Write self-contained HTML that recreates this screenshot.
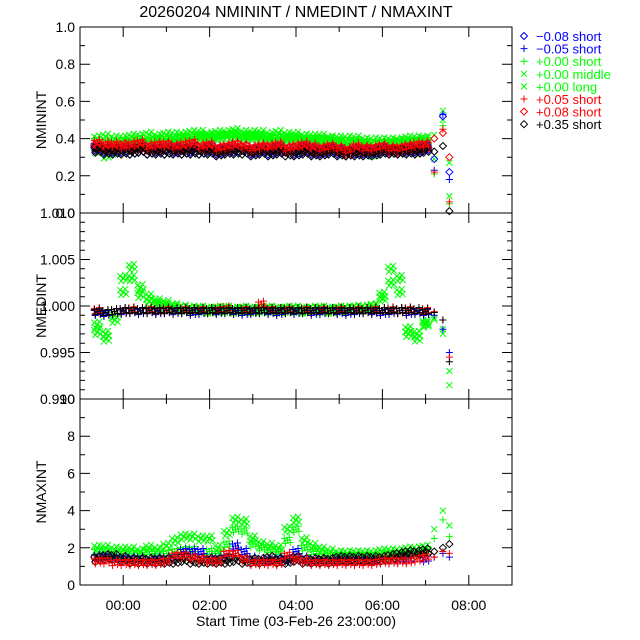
<!DOCTYPE html>
<html><head><meta charset="utf-8"><style>
body{margin:0;background:#fff;}
svg{display:block;font-family:"Liberation Sans",sans-serif;}
</style></head><body>
<svg id="c" width="640" height="640" viewBox="0 0 640 640">
<text x="296" y="17" font-size="16" text-anchor="middle">20260204 NMININT / NMEDINT / NMAXINT</text>
<g id="g"></g>
</svg>
<script>
const times=[-0.6,-0.4,-0.2,0,0.2,0.4,0.6,0.8,1.0,1.2,1.4,1.6,1.8,2.0,2.2,2.4,2.6,2.8,3.0,3.2,3.4,3.6,3.8,4.0,4.2,4.4,4.6,4.8,5.0,5.2,5.4,5.6,5.8,6.0,6.2,6.4,6.6,6.8,7.0,7.2,7.4,7.55];
const xTickLabels=["00:00","02:00","04:00","06:00","08:00"];
const xTickHours=[0,2,4,6,8];
// Panel 1 NMININT
const minGreenLong=[0.40,0.41,0.40,0.40,0.41,0.41,0.42,0.41,0.42,0.42,0.42,0.43,0.43,0.42,0.43,0.43,0.44,0.43,0.43,0.43,0.42,0.43,0.42,0.42,0.41,0.41,0.41,0.40,0.40,0.40,0.40,0.39,0.39,0.39,0.39,0.39,0.40,0.40,0.40,0.42,0.55,0.27];
const minGreenMid=[0.34,0.31,0.33,0.36,0.37,0.38,0.38,0.39,0.39,0.39,0.40,0.40,0.41,0.41,0.41,0.41,0.42,0.41,0.41,0.41,0.40,0.40,0.40,0.40,0.39,0.39,0.39,0.39,0.38,0.37,0.38,0.37,0.32,0.36,0.37,0.38,0.38,0.38,0.39,0.29,0.50,0.09];
const minGreenShort=[0.39,0.38,0.38,0.39,0.39,0.40,0.39,0.40,0.40,0.40,0.41,0.41,0.41,0.40,0.41,0.42,0.42,0.41,0.41,0.41,0.40,0.41,0.40,0.40,0.40,0.39,0.39,0.39,0.38,0.38,0.38,0.38,0.37,0.38,0.38,0.38,0.38,0.39,0.39,0.21,0.47,0.05];
const minRed=[0.38,0.37,0.37,0.36,0.37,0.38,0.36,0.37,0.37,0.36,0.37,0.38,0.36,0.37,0.35,0.36,0.37,0.36,0.35,0.36,0.36,0.37,0.35,0.36,0.37,0.36,0.35,0.36,0.35,0.34,0.36,0.35,0.35,0.36,0.35,0.35,0.36,0.37,0.37,0.22,0.45,0.06];
const minBluePlus=[0.36,0.35,0.35,0.35,0.35,0.36,0.35,0.35,0.36,0.35,0.35,0.36,0.35,0.36,0.35,0.35,0.37,0.36,0.35,0.36,0.35,0.36,0.35,0.35,0.36,0.35,0.34,0.35,0.34,0.34,0.35,0.34,0.34,0.35,0.34,0.34,0.35,0.35,0.36,0.23,0.53,0.18];
const minBlueDia=[0.35,0.34,0.34,0.34,0.33,0.34,0.33,0.34,0.33,0.34,0.33,0.34,0.33,0.34,0.33,0.34,0.34,0.35,0.33,0.34,0.33,0.34,0.34,0.33,0.34,0.33,0.33,0.34,0.33,0.32,0.33,0.33,0.33,0.34,0.33,0.33,0.34,0.34,0.35,0.29,0.52,0.22];
const minRedDia=[0.36,0.35,0.35,0.36,0.35,0.36,0.35,0.35,0.36,0.35,0.35,0.36,0.35,0.35,0.34,0.35,0.36,0.35,0.34,0.35,0.35,0.35,0.34,0.35,0.35,0.34,0.34,0.35,0.34,0.33,0.34,0.34,0.34,0.35,0.34,0.34,0.35,0.35,0.36,0.40,0.43,0.30];
const minBlack=[0.34,0.33,0.33,0.33,0.33,0.34,0.33,0.33,0.33,0.33,0.33,0.33,0.33,0.33,0.32,0.33,0.33,0.33,0.32,0.33,0.32,0.33,0.32,0.32,0.33,0.32,0.32,0.33,0.32,0.32,0.32,0.32,0.32,0.33,0.33,0.33,0.33,0.33,0.34,0.33,0.36,0.01];
// Panel 2 NMEDINT
const medGreenLong=[0.9972,0.9965,0.9990,1.0030,1.0042,1.0020,1.0010,1.0005,1.0003,1.0000,0.9998,0.9997,0.9997,0.9996,0.9997,0.9997,0.9996,0.9997,0.9996,0.9997,0.9997,0.9996,0.9997,0.9997,0.9996,0.9997,0.9997,0.9996,0.9997,0.9997,0.9998,0.9998,1.0000,1.0012,1.0040,1.0030,0.9970,0.9965,0.9980,0.9985,0.9975,0.9930];
const medGreenMid=[0.9980,0.9970,0.9985,1.0015,1.0030,1.0012,1.0005,1.0002,1.0000,0.9998,0.9997,0.9996,0.9996,0.9995,0.9996,0.9996,0.9995,0.9996,0.9995,0.9996,0.9996,0.9995,0.9996,0.9996,0.9995,0.9996,0.9996,0.9995,0.9996,0.9996,0.9997,0.9997,0.9999,1.0008,1.0025,1.0015,0.9975,0.9970,0.9982,0.9987,0.9970,0.9915];
const medRed=[0.9995,0.9993,0.9994,0.9995,0.9996,0.9995,0.9996,0.9995,0.9996,0.9995,0.9996,0.9995,0.9996,0.9995,0.9996,0.9997,0.9995,0.9996,0.9995,1.0002,0.9996,0.9995,0.9996,0.9995,0.9996,0.9995,0.9996,0.9995,0.9996,0.9995,0.9996,0.9995,0.9996,0.9995,0.9996,0.9995,0.9996,0.9995,0.9995,0.9994,0.9985,0.9945];
const medBlue=[0.9993,0.9992,0.9994,0.9994,0.9995,0.9994,0.9995,0.9994,0.9995,0.9994,0.9995,0.9993,0.9994,0.9995,0.9994,0.9995,0.9994,0.9993,0.9994,0.9995,0.9994,0.9993,0.9995,0.9994,0.9995,0.9993,0.9994,0.9995,0.9994,0.9993,0.9994,0.9995,0.9994,0.9993,0.9994,0.9995,0.9993,0.9994,0.9993,0.9990,0.9975,0.9950];
const medBlack=[0.9994,0.9993,0.9994,0.9995,0.9995,0.9995,0.9995,0.9995,0.9995,0.9995,0.9995,0.9995,0.9995,0.9995,0.9995,0.9995,0.9995,0.9995,0.9995,0.9995,0.9995,0.9995,0.9995,0.9995,0.9995,0.9995,0.9995,0.9995,0.9995,0.9995,0.9995,0.9995,0.9995,0.9995,0.9995,0.9995,0.9995,0.9995,0.9994,0.9993,0.9985,0.9940];
// Panel 3 NMAXINT
const maxGreenLong=[2.0,2.0,1.9,1.9,1.9,1.8,2.0,1.9,2.1,2.4,2.6,2.6,2.5,2.5,2.0,2.8,3.5,3.4,2.5,2.2,2.1,2.0,3.0,3.5,2.4,2.1,1.9,1.8,1.7,1.7,1.7,1.7,1.7,1.8,1.8,1.8,1.9,1.9,2.0,3.0,4.0,3.2];
const maxGreenMid=[1.8,1.8,1.7,1.7,1.7,1.7,1.8,1.7,1.7,1.8,1.9,1.9,1.8,1.8,1.7,2.2,3.0,2.9,2.2,2.0,1.9,1.8,2.4,3.0,2.0,1.8,1.7,1.6,1.6,1.6,1.6,1.6,1.6,1.6,1.7,1.7,1.7,1.8,1.9,2.5,3.5,2.6];
const maxBlue=[1.5,1.5,1.4,1.4,1.4,1.4,1.3,1.4,1.4,1.5,1.8,1.8,1.8,1.4,1.4,1.5,2.1,1.8,1.4,1.3,1.3,1.4,1.4,1.8,1.4,1.3,1.3,1.3,1.3,1.3,1.3,1.3,1.3,1.3,1.3,1.4,1.4,1.4,1.4,1.5,1.7,1.5];
const maxRed=[1.3,1.3,1.2,1.2,1.2,1.2,1.2,1.2,1.3,1.6,1.6,1.5,1.4,1.3,1.3,1.7,1.7,1.4,1.2,1.2,1.2,1.2,1.6,1.4,1.3,1.2,1.2,1.2,1.2,1.2,1.2,1.2,1.2,1.3,1.3,1.3,1.3,1.4,1.5,1.5,1.8,1.7];
const maxBlack=[1.4,1.5,1.5,1.4,1.3,1.3,1.3,1.3,1.3,1.3,1.4,1.3,1.3,1.3,1.3,1.3,1.4,1.3,1.3,1.3,1.4,1.3,1.3,1.4,1.3,1.3,1.3,1.3,1.4,1.4,1.4,1.4,1.4,1.4,1.5,1.6,1.7,1.7,1.8,1.8,2.0,2.2];

const NS="http://www.w3.org/2000/svg";
const G=document.getElementById('g');
const X0=80,X1=512,TMIN=-1,TMAX=9;
// fixed visual smear pattern (pixel offsets) to mimic dense sampling
const smear=[[0,0],[-3,-2],[3,2],[-2,3],[2,-3]];
function xs(t){return X0+(t-TMIN)/(TMAX-TMIN)*(X1-X0);}
function mk(tag,attrs,parent){const e=document.createElementNS(NS,tag);for(const k in attrs)e.setAttribute(k,attrs[k]);(parent||G).appendChild(e);return e;}
function mpath(type,x,y){
  if(type==='plus')return `M${x-3.5},${y}H${x+3.5}M${x},${y-3.5}V${y+3.5}`;
  if(type==='x')return `M${x-3},${y-3}L${x+3},${y+3}M${x-3},${y+3}L${x+3},${y-3}`;
  return `M${x},${y-3.5}L${x+3.5},${y}L${x},${y+3.5}L${x-3.5},${y}Z`;
}
function marker(type,x,y,col,parent,dense){
  let d='';
  if(dense){smear.forEach(o=>{d+=mpath(type,x+o[0],y+o[1]);});}
  else d=mpath(type,x,y);
  return mk('path',{d:d,stroke:col,fill:'none','stroke-width':1},parent);
}
const panels=[
 {name:'nminint',title:'NMININT',top:27,bot:213,min:0,max:1,major:[0,0.2,0.4,0.6,0.8,1.0],labels:['0.0','0.2','0.4','0.6','0.8','1.0'],minorStep:0.1,
  series:[[minGreenLong,'x','#00ff00'],[minGreenMid,'x','#00ff00'],[minGreenShort,'plus','#00ff00'],[minBlueDia,'dia','#0000ff'],[minBluePlus,'plus','#0000ff'],[minRedDia,'dia','#ff0000'],[minBlack,'dia','#000000'],[minRed,'plus','#ff0000']]},
 {name:'nmedint',title:'NMEDINT',top:213,bot:399,min:0.990,max:1.010,major:[0.990,0.995,1.000,1.005,1.010],labels:['0.990','0.995','1.000','1.005','1.010'],minorStep:0.001,
  series:[[medGreenLong,'x','#00ff00'],[medGreenMid,'x','#00ff00'],[medBlue,'plus','#0000ff'],[medRed,'plus','#ff0000'],[medBlack,'plus','#000000']]},
 {name:'nmaxint',title:'NMAXINT',top:399,bot:585,min:0,max:10,major:[0,2,4,6,8,10],labels:['0','2','4','6','8','10'],minorStep:1,
  series:[[maxGreenLong,'x','#00ff00'],[maxGreenMid,'plus','#00ff00'],[maxBlue,'plus','#0000ff'],[maxBlack,'dia','#000000'],[maxRed,'plus','#ff0000']]}
];
panels.forEach(P=>{
  const ys=v=>P.bot-(v-P.min)/(P.max-P.min)*(P.bot-P.top);
  const pg=mk('g',{});
  
  
  P.series.forEach(s=>{
    const sg=mk('g',{},pg);
    
    
    s[0].forEach((v,i)=>{
      const dense=i<s[0].length-3;
      const m=marker(s[1],xs(times[i]),ys(v),s[2],sg,dense);
      
      
    });
  });
  const fr=mk('rect',{x:X0,y:P.top,width:X1-X0,height:P.bot-P.top,fill:'none',stroke:'#000','stroke-width':1},pg);
  
  
  let d='';
  const n=Math.round((P.max-P.min)/P.minorStep);
  for(let k=0;k<=n;k++){const v=P.min+k*P.minorStep;const y=ys(v);const maj=P.major.some(m=>Math.abs(m-v)<P.minorStep/10);const L=maj?10:5;d+=`M${X0},${y}h${L}M${X1},${y}h${-L}`;}
  for(let h=-1;h<=9;h++){const x=xs(h);const L=(h%2===0)?10:5;d+=`M${x},${P.bot}v${-L}M${x},${P.top}v${L}`;}
  const tk=mk('path',{d:d,stroke:'#000','stroke-width':1,fill:'none'},pg);
  
  
  P.major.forEach((v,i)=>{
    const t=mk('text',{x:75,y:ys(v)+5,'font-size':14,'text-anchor':'end',fill:'#000'},pg);
    t.textContent=P.labels[i];
    
    
  });
  const yt=mk('text',{x:0,y:0,'font-size':14,'text-anchor':'middle',transform:`translate(46,${(P.top+P.bot)/2}) rotate(-90)`},pg);
  yt.textContent=P.title;
  
  
});
xTickHours.forEach((h,i)=>{
  const t=mk('text',{x:xs(h),y:610,'font-size':14,'text-anchor':'middle'});
  t.textContent=xTickLabels[i];
  
  
});
const xt=mk('text',{x:296,y:626,'font-size':14,'text-anchor':'middle'});
xt.textContent='Start Time (03-Feb-26 23:00:00)';


const legendLabels=['\u22120.08 short','\u22120.05 short','+0.00 short','+0.00 middle','+0.00 long','+0.05 short','+0.08 short','+0.35 short'];
const legendMarkers=['dia','plus','plus','x','x','plus','dia','dia'];
const legendColors=['#0000ff','#0000ff','#00ff00','#00ff00','#00ff00','#ff0000','#ff0000','#000000'];
const lg=mk('g',{});


legendLabels.forEach((l,i)=>{
  const y=36+i*12.6;
  const e=mk('g',{},lg);
  
  
  marker(legendMarkers[i],524,y,legendColors[i],e,false);
  const t=mk('text',{x:536,y:y+5,'font-size':13,fill:legendColors[i]},e);
  t.textContent=l;
});
</script>
</body></html>
